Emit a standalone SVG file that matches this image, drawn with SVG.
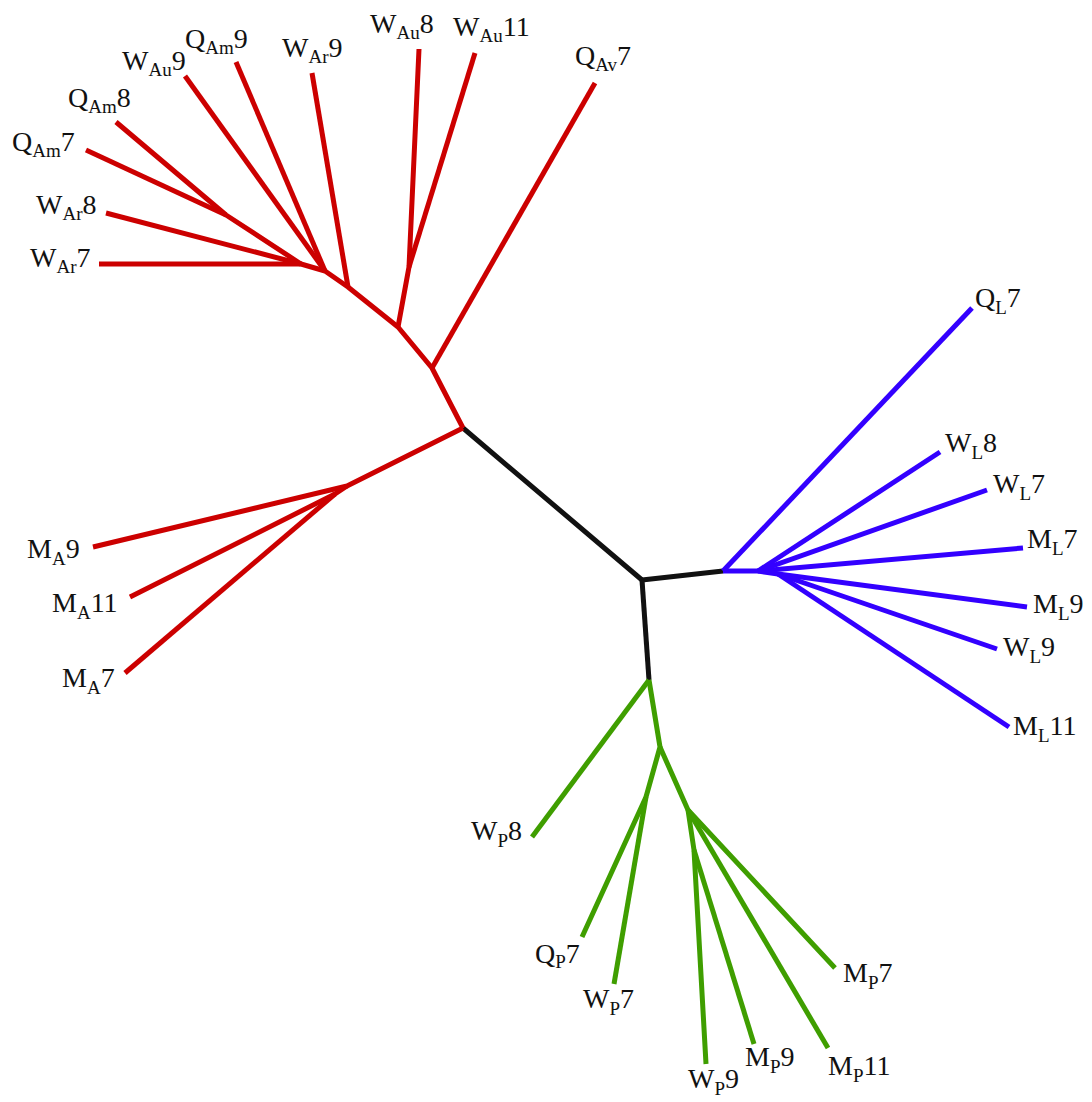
<svg xmlns="http://www.w3.org/2000/svg" width="1092" height="1102" viewBox="0 0 1092 1102">
  <style>
    .e { fill: none; stroke-width: 5; stroke-linecap: butt; stroke-linejoin: round; }
    .red { stroke: #cc0000; }
    .blk { stroke: #111111; }
    .blu { stroke: #3300ff; }
    .grn { stroke: #3f9e00; }
    text { font-family: "Liberation Serif", "Times New Roman", serif; font-size: 28px; fill: #111111; }
    .s { font-size: 19px; }
  </style>
  <rect width="1092" height="1102" fill="#ffffff"/>

  <g id="connectors">
    <!-- backbone -->
    <polyline class="e blk" points="463,428 642,580 723,571"/>
    <polyline class="e blk" points="642,580 649,680"/>

    <!-- red clade -->
    <polyline class="e red" points="463,428 432,368 398,327 348,287 325,271 301,264 99,264"/>
    <line class="e red" x1="432" y1="368" x2="595" y2="83"/>
    <polyline class="e red" points="398,327 409,267 419,49"/>
    <line class="e red" x1="409" y1="267" x2="475" y2="53"/>
    <line class="e red" x1="348" y1="287" x2="312" y2="73"/>
    <line class="e red" x1="325" y1="271" x2="236" y2="62"/>
    <line class="e red" x1="325" y1="271" x2="185" y2="76"/>
    <line class="e red" x1="301" y1="264" x2="106" y2="213"/>
    <polyline class="e red" points="301,264 226,215 116,122"/>
    <line class="e red" x1="226" y1="215" x2="86" y2="150"/>
    <polyline class="e red" points="463,428 347,486 93,547"/>
    <polyline class="e red" points="347,486 335,494 130,597"/>
    <line class="e red" x1="335" y1="494" x2="125" y2="673"/>

    <!-- blue clade -->
    <line class="e blu" x1="723" y1="571" x2="972" y2="308"/>
    <polyline class="e blu" points="723,571 758,571 1023,548"/>
    <line class="e blu" x1="758" y1="571" x2="940" y2="452"/>
    <line class="e blu" x1="758" y1="571" x2="987" y2="490"/>
    <polyline class="e blu" points="758,571 778,574 1027,607"/>
    <line class="e blu" x1="778" y1="574" x2="997" y2="649"/>
    <line class="e blu" x1="778" y1="574" x2="1009" y2="727"/>

    <!-- green clade -->
    <line class="e grn" x1="649" y1="680" x2="532" y2="837"/>
    <polyline class="e grn" points="649,680 660,747 646,797 582,937"/>
    <line class="e grn" x1="646" y1="797" x2="614" y2="984"/>
    <polyline class="e grn" points="660,747 688,810 835,968"/>
    <line class="e grn" x1="688" y1="810" x2="828" y2="1048"/>
    <polyline class="e grn" points="688,810 694,850 706,1064"/>
    <line class="e grn" x1="694" y1="850" x2="754" y2="1044"/>
  </g>

  <!-- red leaves -->
  <g id="QAm9"><text x="185" y="48">Q<tspan class="s" dy="6">Am</tspan><tspan dy="-6">9</tspan></text></g>
  <g id="WAr9"><text x="282" y="57">W<tspan class="s" dy="6">Ar</tspan><tspan dy="-6">9</tspan></text></g>
  <g id="WAu9"><text x="122" y="70">W<tspan class="s" dy="6">Au</tspan><tspan dy="-6">9</tspan></text></g>
  <g id="QAm8"><text x="68" y="107">Q<tspan class="s" dy="6">Am</tspan><tspan dy="-6">8</tspan></text></g>
  <g id="QAm7"><text x="12" y="151">Q<tspan class="s" dy="6">Am</tspan><tspan dy="-6">7</tspan></text></g>
  <g id="WAr8"><text x="36" y="214">W<tspan class="s" dy="6">Ar</tspan><tspan dy="-6">8</tspan></text></g>
  <g id="WAr7"><text x="30" y="267">W<tspan class="s" dy="6">Ar</tspan><tspan dy="-6">7</tspan></text></g>
  <g id="WAu8"><text x="370" y="33">W<tspan class="s" dy="6">Au</tspan><tspan dy="-6">8</tspan></text></g>
  <g id="WAu11"><text x="453" y="36">W<tspan class="s" dy="6">Au</tspan><tspan dy="-6">11</tspan></text></g>
  <g id="QAv7"><text x="575" y="65">Q<tspan class="s" dy="6">Av</tspan><tspan dy="-6">7</tspan></text></g>
  <g id="MA9"><text x="27" y="558">M<tspan class="s" dy="7">A</tspan><tspan dy="-7">9</tspan></text></g>
  <g id="MA11"><text x="52" y="612">M<tspan class="s" dy="7">A</tspan><tspan dy="-7">11</tspan></text></g>
  <g id="MA7"><text x="62" y="687">M<tspan class="s" dy="7">A</tspan><tspan dy="-7">7</tspan></text></g>

  <!-- blue leaves -->
  <g id="QL7"><text x="975" y="307">Q<tspan class="s" dy="7">L</tspan><tspan dy="-7">7</tspan></text></g>
  <g id="WL8"><text x="945" y="452">W<tspan class="s" dy="7">L</tspan><tspan dy="-7">8</tspan></text></g>
  <g id="WL7"><text x="993" y="493">W<tspan class="s" dy="7">L</tspan><tspan dy="-7">7</tspan></text></g>
  <g id="ML7"><text x="1027" y="548">M<tspan class="s" dy="7">L</tspan><tspan dy="-7">7</tspan></text></g>
  <g id="ML9"><text x="1033" y="613">M<tspan class="s" dy="7">L</tspan><tspan dy="-7">9</tspan></text></g>
  <g id="WL9"><text x="1003" y="656">W<tspan class="s" dy="7">L</tspan><tspan dy="-7">9</tspan></text></g>
  <g id="ML11"><text x="1013" y="735">M<tspan class="s" dy="7">L</tspan><tspan dy="-7">11</tspan></text></g>

  <!-- green leaves -->
  <g id="WP8"><text x="471" y="840">W<tspan class="s" dy="7">P</tspan><tspan dy="-7">8</tspan></text></g>
  <g id="QP7"><text x="535" y="963">Q<tspan class="s" dy="5">P</tspan><tspan dy="-5">7</tspan></text></g>
  <g id="WP7"><text x="583" y="1008">W<tspan class="s" dy="7">P</tspan><tspan dy="-7">7</tspan></text></g>
  <g id="WP9"><text x="688" y="1088">W<tspan class="s" dy="7">P</tspan><tspan dy="-7">9</tspan></text></g>
  <g id="MP9"><text x="745" y="1066">M<tspan class="s" dy="7">P</tspan><tspan dy="-7">9</tspan></text></g>
  <g id="MP11"><text x="828" y="1075">M<tspan class="s" dy="7">P</tspan><tspan dy="-7">11</tspan></text></g>
  <g id="MP7"><text x="843" y="982">M<tspan class="s" dy="7">P</tspan><tspan dy="-7">7</tspan></text></g>
</svg>
